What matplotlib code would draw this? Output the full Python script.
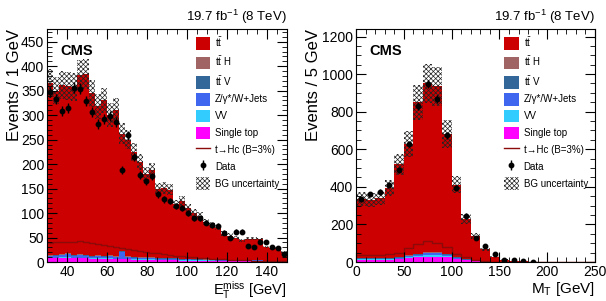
# CMS t->Hc control distributions: MET and transverse mass
import numpy as np
import matplotlib.pyplot as plt
from matplotlib.patches import Patch
from matplotlib.lines import Line2D
from matplotlib.ticker import MultipleLocator

plt.rcParams['font.family'] = ['Liberation Sans', 'DejaVu Sans']
plt.rcParams['mathtext.fontset'] = 'custom'
plt.rcParams['mathtext.rm'] = 'Liberation Sans'
plt.rcParams['mathtext.it'] = 'Liberation Sans:italic'
plt.rcParams['mathtext.bf'] = 'Liberation Sans:bold'
plt.rcParams['hatch.linewidth'] = 0.5

# ---- MET panel: 3 GeV bins, 30-150 GeV ----
metEdges = np.arange(30, 151, 3)
metTotal = [365, 350, 362, 360, 358, 382, 384, 345, 318, 330,
            300, 310, 262, 250, 225, 205, 180, 188, 150, 152,
            148, 118, 124, 110, 100, 94, 82, 76, 70, 58,
            54, 50, 44, 48, 48, 46, 30, 28, 28, 20]
metSingleTop = [8, 8, 9, 9, 8, 8, 8, 7, 7, 7, 7, 6, 6, 6, 5, 5, 5, 5, 4, 4,
                4, 4, 3, 3, 3, 3, 3, 3, 2, 2, 2, 2, 2, 2, 2, 2, 1, 1, 1, 1]
metVV = [1, 1, 1, 1, 1, 1, 1, 1, 1, 1, 1, 1, 1, 1, 1, 1, 1, 1, 0.5, 0.5,
         0.5, 0.5, 0.5, 0.5, 0.5, 0.5, 0.5, 0.5, 0.5, 0.5, 0.5, 0.5, 0.3, 0.3, 0.3, 0.3, 0.3, 0.3, 0.3, 0.3]
metZJets = [3, 4, 4, 6, 4, 5, 4, 3, 4, 3, 4, 3, 14, 3, 3, 2, 2, 2, 2, 2,
            2, 2, 1, 2, 1, 1, 1, 1, 1, 1, 1, 1, 1, 1, 1, 1, 1, 1, 1, 1]
metTTV = [1, 1, 1, 1, 1, 1, 1, 1, 1, 1, 1, 1, 1, 1, 1, 1, 1, 1, 1, 1,
          1, 1, 1, 1, 1, 1, 0.5, 0.5, 0.5, 0.5, 0.5, 0.5, 0.5, 0.5, 0.5, 0.5, 0.5, 0.5, 0.5, 0.5]
metTTH = [1, 1, 1, 1, 1, 1, 1, 1, 1, 1, 1, 1, 1, 1, 1, 1, 0.5, 0.5, 0.5, 0.5,
          0.5, 0.5, 0.5, 0.5, 0.5, 0.5, 0.3, 0.3, 0.3, 0.3, 0.3, 0.3, 0.3, 0.3, 0.3, 0.3, 0.2, 0.2, 0.2, 0.2]
metSignal = [38, 40, 41, 41, 40, 42, 41, 39, 37, 35, 33, 31, 29, 27, 25, 23, 21, 19, 18, 16,
             15, 13, 12, 11, 10, 9, 8, 7, 6, 6, 5, 5, 4, 4, 3, 3, 3, 2, 2, 2]
metData = [347, 333, 309, 315, 356, 354, 329, 306, 282, 292,
           299, 286, 188, 259, 215, 178, 165, 175, 138, 128,
           125, 114, 110, 100, 89, 89, 80, 75, 74, 60,
           50, 62, 62, 33, 30, 40, 40, 30, 28, 16]

# ---- MT panel: 10 GeV bins, 0-250 GeV ----
mtEdges = np.arange(0, 251, 10)
mtTotal = [335, 330, 338, 395, 520, 630, 850, 950, 935, 680,
           410, 230, 140, 68, 28, 12, 6, 3, 1.5, 0.8,
           0.5, 0.3, 0.2, 0.1, 0.1]
mtSingleTop = [12, 12, 12, 13, 15, 20, 25, 28, 28, 24, 15, 8, 4, 2, 1, 0.5, 0.3, 0.2, 0.1, 0, 0, 0, 0, 0, 0]
mtVV = [2, 2, 2, 2, 3, 4, 6, 8, 8, 6, 3, 2, 1, 0.5, 0.2, 0.1, 0, 0, 0, 0, 0, 0, 0, 0, 0]
mtZJets = [3, 3, 3, 3, 4, 6, 8, 10, 10, 8, 5, 3, 2, 1, 0.5, 0.2, 0.1, 0, 0, 0, 0, 0, 0, 0, 0]
mtTTV = [2, 2, 2, 2, 3, 3, 4, 4, 4, 3, 2, 1, 1, 0.5, 0.2, 0.1, 0, 0, 0, 0, 0, 0, 0, 0, 0]
mtTTH = [1, 1, 1, 1, 1, 2, 2, 2, 2, 2, 1, 1, 0.5, 0.2, 0.1, 0, 0, 0, 0, 0, 0, 0, 0, 0, 0]
mtSignal = [38, 38, 39, 42, 50, 75, 95, 110, 100, 78, 45, 25, 12, 5, 2, 1, 0.5, 0.3, 0.2, 0.1,
            0.1, 0, 0, 0, 0]
mtData = [333, 360, 373, 412, 491, 628, 830, 947, 868, 675,
          395, 247, 128, 83, 44, 12, 8, 7, 2, np.nan,
          np.nan, np.nan, np.nan, np.nan, np.nan]

colTT = '#cc0000'
colTTH = '#a06464'
colTTV = '#336699'
colZJ = '#3f66ee'
colVV = '#33ccff'
colST = '#ff00ff'
colSig = '#8b0a0a'
bandHatch = 'xxxxxxx'


def drawPanel(ax, edges, total, single, vv, zj, ttv, tth, signal, data, binw, unc):
    total = np.array(total, dtype=float)
    others = [(single, colST), (vv, colVV), (zj, colZJ), (ttv, colTTV), (tth, colTTH)]
    ttbar = total - sum(np.array(o[0], dtype=float) for o in others)
    stack = others + [(ttbar, colTT)]

    bottom = np.zeros(len(edges) - 1)
    for vals, col in stack:
        top = bottom + np.array(vals, dtype=float)
        ax.stairs(top, edges, baseline=bottom, fill=True, color=col, lw=0)
        bottom = top

    # background uncertainty band
    ax.stairs(bottom * (1 + unc), edges, baseline=bottom * (1 - unc), fill=True,
              facecolor='none', edgecolor='#222222', hatch=bandHatch, lw=0)

    ax.stairs(signal, edges, baseline=None, color=colSig, lw=1)

    data = np.array(data, dtype=float)
    centers = 0.5 * (edges[:-1] + edges[1:])
    err = np.sqrt(data * binw) / binw
    eb = ax.errorbar(centers, data, yerr=err, fmt='o', color='black', ms=3.2,
                     elinewidth=1, capsize=0)
    return eb


def styleAxes(ax, xmaj, xmin, ymaj, ymin):
    ax.xaxis.set_major_locator(MultipleLocator(xmaj))
    ax.xaxis.set_minor_locator(MultipleLocator(xmin))
    ax.yaxis.set_major_locator(MultipleLocator(ymaj))
    ax.yaxis.set_minor_locator(MultipleLocator(ymin))
    ax.tick_params(which='both', direction='in', top=True, right=True, labelsize=10, pad=2)
    ax.tick_params(which='major', length=7)
    ax.tick_params(which='minor', length=3.5)


def addLegend(ax, eb):
    handles = [
        Patch(facecolor=colTT, lw=0),
        Patch(facecolor=colTTH, lw=0),
        Patch(facecolor=colTTV, lw=0),
        Patch(facecolor=colZJ, lw=0),
        Patch(facecolor=colVV, lw=0),
        Patch(facecolor=colST, lw=0),
        Line2D([], [], color=colSig, lw=1),
        eb,
        Patch(facecolor='white', edgecolor='#222222', hatch=bandHatch, lw=0),
    ]
    labels = [r'$\mathrm{t\bar{t}}$', r'$\mathrm{t\bar{t}}$ H', r'$\mathrm{t\bar{t}}$ V',
              'Z/\u03b3*/W+Jets', 'VV', 'Single top', 't\u2192Hc (B=3%)', 'Data', 'BG uncertainty']
    ax.legend(handles, labels, loc='upper left', bbox_to_anchor=(0.62, 0.975),
              frameon=False, fontsize=7, handlelength=1.5, handleheight=1.6,
              labelspacing=0.45, handletextpad=0.5, borderpad=0, borderaxespad=0)


fig = plt.figure(figsize=(6.06, 3.01), dpi=100)
axL = fig.add_axes([47 / 606, 39 / 301, 240 / 606, 233 / 301])
axR = fig.add_axes([356 / 606, 39 / 301, 239 / 606, 233 / 301])

ebL = drawPanel(axL, metEdges, metTotal, metSingleTop, metVV, metZJets, metTTV, metTTH,
                metSignal, metData, 3, 0.08)
axL.set_xlim(30, 150)
axL.set_ylim(0, 476)
styleAxes(axL, 20, 5, 50, 10)
axL.set_ylabel('Events / 1 GeV', fontsize=12, loc='top')
axL.yaxis.set_label_coords(-0.105, 1.0)
axL.set_xlabel(r'$\mathrm{E_T^{miss}}$ [GeV]', fontsize=10.5, loc='right', labelpad=0)
addLegend(axL, ebL)

ebR = drawPanel(axR, mtEdges, mtTotal, mtSingleTop, mtVV, mtZJets, mtTTV, mtTTH,
                mtSignal, mtData, 2, 0.11)
axR.set_xlim(0, 250)
axR.set_ylim(0, 1240)
styleAxes(axR, 50, 10, 200, 50)
axR.set_ylabel('Events / 5 GeV', fontsize=12, loc='top')
axR.yaxis.set_label_coords(-0.145, 1.0)
axR.set_xlabel(r'$\mathrm{M_T}$ [GeV]', fontsize=11, loc='right', labelpad=1)
addLegend(axR, ebR)

for ax in (axL, axR):
    ax.text(0.055, 0.935, 'CMS', transform=ax.transAxes, fontsize=10.5,
            fontweight='bold', va='top', ha='left')
    ax.text(1.0, 1.015, r'19.7 fb$^{-1}$ (8 TeV)', transform=ax.transAxes,
            fontsize=9.5, ha='right', va='bottom')

fig.savefig('out.png', dpi=100)
